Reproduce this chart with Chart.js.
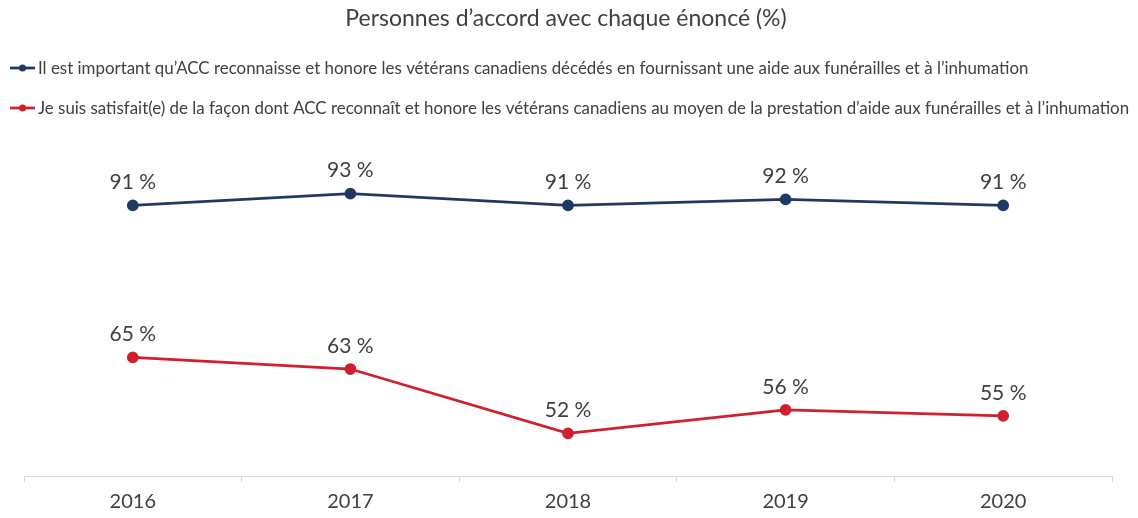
<!DOCTYPE html>
<html><head><meta charset="utf-8">
<script src="https://cdn.jsdelivr.net/npm/chart.js@4"></script>
<style>html,body{margin:0;padding:0;background:#fff;}#wrap{width:1138px;height:518px;}</style>
</head><body><div id="wrap"><canvas id="c" width="1138" height="518"></canvas></div>
<script>
const title = "Personnes d’accord avec chaque énoncé (%)";
const years = ["2016", "2017", "2018", "2019", "2020"];
const seriesNames = [
  "Il est important qu’ACC reconnaisse et honore les vétérans canadiens décédés en fournissant une aide aux funérailles et à l’inhumation",
  "Je suis satisfait(e) de la façon dont ACC reconnaît et honore les vétérans canadiens au moyen de la prestation d’aide aux funérailles et à l’inhumation"
];
const importantValues = [91, 93, 91, 92, 91];
const satisfiedValues = [65, 63, 52, 56, 55];
const colors = ["#203864", "#d01f2e"];
const FONT = "Lato, 'Open Sans', sans-serif";
const TXT = "#404040";

const overlay = {
  id: 'overlay',
  afterDraw(chart) {
    const ctx = chart.ctx;
    ctx.save();
    // title
    ctx.fillStyle = TXT;
    ctx.font = "23px " + FONT;
    ctx.textAlign = "center";
    ctx.textBaseline = "middle";
    ctx.fillText(title, 566, 19);
    // legend
    ctx.textAlign = "left";
    ctx.font = "16.9px " + FONT;
    const rows = [68, 108];
    chart.data.datasets.forEach((ds, i) => {
      const y = rows[i];
      ctx.strokeStyle = ds.borderColor;
      ctx.lineWidth = 2.75;
      ctx.beginPath(); ctx.moveTo(10, y); ctx.lineTo(35, y); ctx.stroke();
      ctx.fillStyle = ds.borderColor;
      ctx.beginPath(); ctx.arc(22.5, y, 3.5, 0, Math.PI * 2); ctx.fill();
      ctx.fillStyle = TXT;
      ctx.fillText(ds.label, 38, y + 1);
    });
    // data labels
    ctx.font = "21px " + FONT;
    ctx.textAlign = "center";
    ctx.fillStyle = TXT;
    chart.data.datasets.forEach((ds, i) => {
      const meta = chart.getDatasetMeta(i);
      meta.data.forEach((pt, j) => {
        ctx.fillText(ds.data[j] + " %", pt.x, pt.y - 23);
      });
    });
    ctx.restore();
  }
};

new Chart(document.getElementById('c'), {
  type: 'line',
  data: {
    labels: years,
    datasets: [
      { label: seriesNames[0], data: importantValues, borderColor: colors[0], backgroundColor: colors[0], borderWidth: 2.75, pointRadius: 4.5, pointHoverRadius: 4.5, tension: 0 },
      { label: seriesNames[1], data: satisfiedValues, borderColor: colors[1], backgroundColor: colors[1], borderWidth: 2.75, pointRadius: 4.5, pointHoverRadius: 4.5, tension: 0 }
    ]
  },
  options: {
    responsive: false,
    animation: false,
    events: [],
    layout: { padding: { top: 141, left: 24, right: 26, bottom: -4 } },
    plugins: { legend: { display: false }, title: { display: false }, tooltip: { enabled: false } },
    scales: {
      x: {
        offset: true,
        grid: { offset: true, drawOnChartArea: false, drawTicks: true, tickLength: 6, color: '#d9d9d9' },
        border: { color: '#d9d9d9', width: 1 },
        ticks: { color: TXT, font: { family: FONT, size: 20, lineHeight: 1 }, padding: 10 }
      },
      y: { display: false, min: 44.7, max: 102 }
    }
  },
  plugins: [overlay]
});
</script>
</body></html>
